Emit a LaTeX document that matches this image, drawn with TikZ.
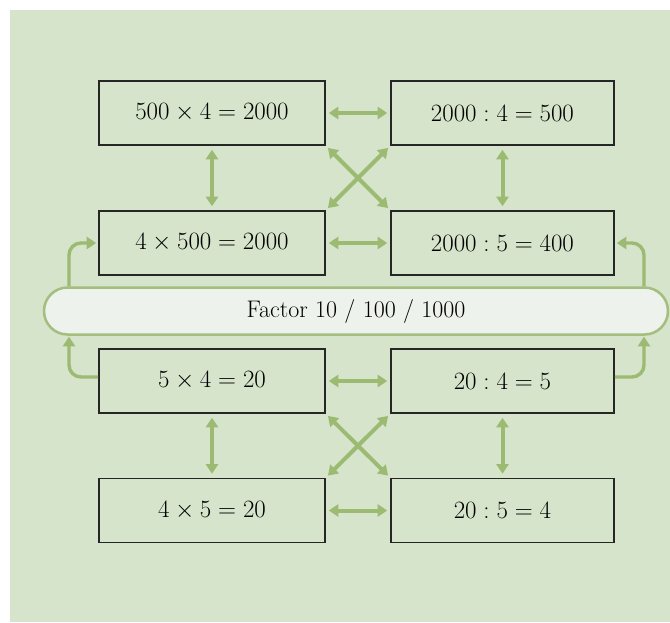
\documentclass[tikz,border=0pt]{standalone}
\usetikzlibrary{arrows.meta,shapes.misc}
\definecolor{bg}{HTML}{D5E4CA}
\definecolor{arr}{HTML}{9CBA72}
\definecolor{barfill}{HTML}{EEF2EC}
\definecolor{barline}{HTML}{A3BE7E}
\begin{document}
\begin{tikzpicture}[x=1pt,y=-1pt,
 eqbox/.style={draw=black!85,line width=1.6pt,minimum height=64pt,inner sep=0pt,font=\fontsize{24}{28}\selectfont},
 lbox/.style={eqbox,minimum width=226pt},
 rbox/.style={eqbox,minimum width=223pt},
 tipa/.tip={Triangle[width=12pt,length=9.5pt]},
 conn/.style={draw=arr,line width=4pt,tipa-tipa,shorten <=3pt,shorten >=3pt},
 loopline/.style={draw=arr,line width=3.4pt,rounded corners=12pt,-tipa},
 factorbar/.style={rounded rectangle,draw=barline,line width=2.5pt,fill=barfill,minimum width=624pt,minimum height=47pt,inner sep=0pt,font=\fontsize{24}{28}\selectfont}]
\fill[white] (0,0) rectangle (670,622);
\fill[bg] (10,10) rectangle (670,622);
\useasboundingbox (0,0) rectangle (670,622);
\node[lbox] (a1) at (212,113) {$500\times4=2000$};
\node[rbox] (b1) at (502.5,113) {$2000:4=500$};
\node[lbox] (a2) at (212,243) {$4\times500=2000$};
\node[rbox] (b2) at (502.5,243) {$2000:5=400$};
\node[lbox] (a3) at (212,381) {$5\times4=20$};
\node[rbox] (b3) at (502.5,381) {$20:4=5$};
\node[lbox] (a4) at (212,510.5) {$4\times5=20$};
\node[rbox] (b4) at (502.5,510.5) {$20:5=4$};
\coordinate (lx) at (69,0);
\coordinate (rx) at (644,0);
\node[factorbar] (f) at (356,311) {Factor 10 / 100 / 1000};
% horizontal
\draw[conn] (a1) -- (b1);
\draw[conn] (a2) -- (b2);
\draw[conn] (a3) -- (b3);
\draw[conn] (a4) -- (b4);
% vertical
\draw[conn,shorten <=4pt,shorten >=4pt] (a1) -- (a2);
\draw[conn,shorten <=4pt,shorten >=4pt] (b1) -- (b2);
\draw[conn,shorten <=4pt,shorten >=4pt] (a3) -- (a4);
\draw[conn,shorten <=4pt,shorten >=4pt] (b3) -- (b4);
% crosses
\draw[conn] (a1.south east) -- (b2.north west);
\draw[conn] (b1.south west) -- (a2.north east);
\draw[conn] (a3.south east) -- (b4.north west);
\draw[conn] (b3.south west) -- (a4.north east);
% loops
\draw[loopline,shorten >=1pt] ([yshift=4pt]a3.west) -| (f.south -| lx);
\draw[loopline,shorten >=2pt] (f.north -| lx) |- (a2.west);
\draw[loopline,shorten >=1pt] ([yshift=4pt]b3.east) -| (f.south -| rx);
\draw[loopline,shorten >=2pt] (f.north -| rx) |- (b2.east);
\end{tikzpicture}
\end{document}
